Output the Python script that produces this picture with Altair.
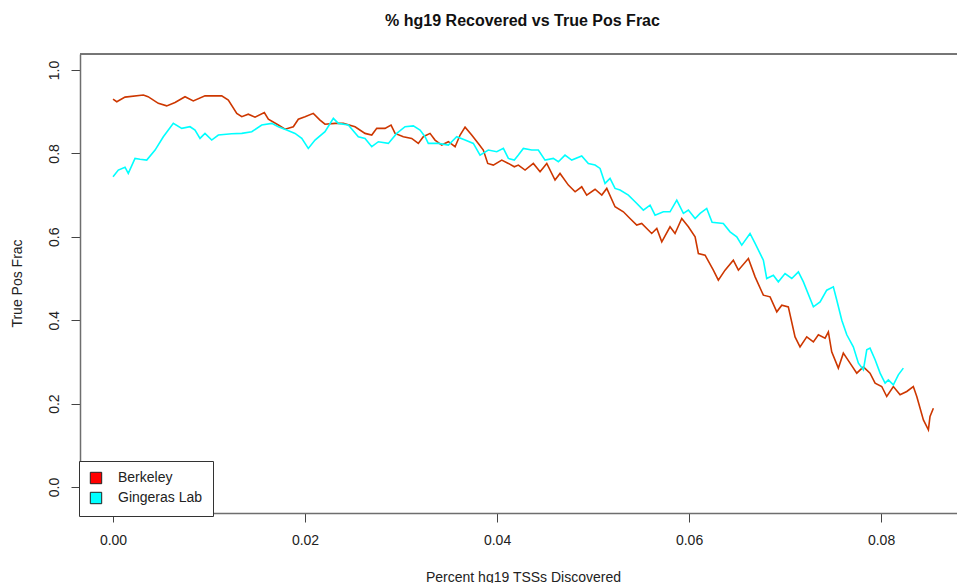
import altair as alt
import pandas as pd

series_names = ["Berkeley", "Gingeras Lab"]
line_colors = ["#CD3700", "#00FFFF"]
legend_colors = ["#FF0000", "#00FFFF"]

berkeley_x = [0.0, 0.00039, 0.00125, 0.00316, 0.00365, 0.00472, 0.00559, 0.00646, 0.0075, 0.00836,
              0.00958, 0.01132, 0.01201, 0.01289, 0.01341, 0.01409, 0.01479, 0.01576, 0.01618, 0.01722,
              0.01792, 0.01878, 0.0193, 0.02, 0.02086, 0.02156, 0.02208, 0.02313, 0.02399, 0.02521,
              0.02625, 0.02695, 0.02747, 0.02833, 0.02896, 0.02938, 0.03024, 0.03111, 0.0318, 0.03232,
              0.03302, 0.03354, 0.03424, 0.03493, 0.03563, 0.03615, 0.03667, 0.03736, 0.03805, 0.03857,
              0.03903, 0.03961, 0.04049, 0.04118, 0.0418, 0.04222, 0.04292, 0.04378, 0.04448, 0.04518,
              0.04604, 0.04656, 0.04743, 0.04813, 0.04882, 0.04934, 0.05021, 0.05091, 0.05143, 0.05229,
              0.05316, 0.05385, 0.05455, 0.05507, 0.05611, 0.05664, 0.05716, 0.05802, 0.05854, 0.05924,
              0.05993, 0.06063, 0.06097, 0.06167, 0.06253, 0.06305, 0.06375, 0.06461, 0.06514, 0.06618,
              0.06688, 0.06774, 0.06844, 0.06914, 0.06966, 0.07034, 0.07104, 0.07156, 0.07226, 0.07295,
              0.07347, 0.07417, 0.07451, 0.07486, 0.07555, 0.07607, 0.07677, 0.07747, 0.07816, 0.07885,
              0.07938, 0.08007, 0.08059, 0.08128, 0.08198, 0.08268, 0.08336, 0.08372, 0.08441, 0.08493,
              0.0851, 0.08545]
berkeley_y = [0.930, 0.924, 0.935, 0.940, 0.936, 0.920, 0.914, 0.922, 0.936, 0.926,
              0.938, 0.938, 0.928, 0.896, 0.888, 0.894, 0.887, 0.898, 0.882, 0.868,
              0.858, 0.864, 0.882, 0.888, 0.896, 0.880, 0.870, 0.872, 0.872, 0.864,
              0.848, 0.844, 0.860, 0.860, 0.868, 0.848, 0.840, 0.836, 0.824, 0.840,
              0.848, 0.832, 0.820, 0.828, 0.816, 0.844, 0.863, 0.844, 0.824, 0.808,
              0.776, 0.772, 0.784, 0.776, 0.768, 0.772, 0.760, 0.776, 0.756, 0.776,
              0.736, 0.752, 0.724, 0.708, 0.720, 0.700, 0.714, 0.700, 0.716, 0.672,
              0.660, 0.644, 0.628, 0.632, 0.608, 0.620, 0.588, 0.624, 0.608, 0.644,
              0.624, 0.600, 0.560, 0.556, 0.520, 0.496, 0.520, 0.544, 0.520, 0.548,
              0.504, 0.460, 0.456, 0.420, 0.436, 0.432, 0.360, 0.336, 0.360, 0.348,
              0.365, 0.357, 0.372, 0.324, 0.285, 0.321, 0.297, 0.273, 0.288, 0.273,
              0.249, 0.241, 0.217, 0.241, 0.221, 0.229, 0.241, 0.217, 0.161, 0.137,
              0.169, 0.189]

gingeras_x = [0.0, 0.00055, 0.00125, 0.00159, 0.00229, 0.00281, 0.00351, 0.00438, 0.00524, 0.00628,
              0.00716, 0.00802, 0.00854, 0.00906, 0.00958, 0.01028, 0.01097, 0.01236, 0.01341, 0.01445,
              0.01549, 0.01653, 0.01722, 0.01809, 0.01896, 0.01966, 0.02034, 0.02104, 0.02208, 0.02295,
              0.02347, 0.02451, 0.02555, 0.02625, 0.02695, 0.02764, 0.02868, 0.02955, 0.03042, 0.03128,
              0.03198, 0.0325, 0.03284, 0.03389, 0.03493, 0.0358, 0.03667, 0.03753, 0.03823, 0.03909,
              0.03997, 0.04066, 0.04118, 0.0418, 0.04222, 0.04274, 0.04361, 0.0443, 0.045, 0.04586,
              0.04639, 0.04708, 0.04778, 0.04882, 0.04951, 0.05021, 0.05073, 0.05125, 0.05177, 0.05229,
              0.05281, 0.05368, 0.05438, 0.05524, 0.05594, 0.05646, 0.05732, 0.05802, 0.05872, 0.05941,
              0.05993, 0.06063, 0.06115, 0.06184, 0.0624, 0.06357, 0.06427, 0.06497, 0.06549, 0.06635,
              0.06688, 0.06774, 0.06809, 0.06878, 0.0693, 0.07, 0.0707, 0.07139, 0.07191, 0.07295,
              0.07365, 0.07434, 0.07503, 0.07539, 0.07591, 0.07643, 0.07711, 0.07764, 0.07816, 0.07851,
              0.07885, 0.07938, 0.0799, 0.08042, 0.08076, 0.08128, 0.0818, 0.08232]
gingeras_y = [0.744, 0.760, 0.767, 0.752, 0.788, 0.786, 0.784, 0.808, 0.840, 0.872,
              0.860, 0.864, 0.856, 0.836, 0.848, 0.832, 0.844, 0.847, 0.848, 0.852,
              0.868, 0.872, 0.864, 0.856, 0.848, 0.836, 0.812, 0.832, 0.852, 0.884,
              0.872, 0.868, 0.840, 0.836, 0.816, 0.828, 0.824, 0.848, 0.864, 0.866,
              0.856, 0.840, 0.824, 0.824, 0.820, 0.840, 0.832, 0.824, 0.796, 0.808,
              0.804, 0.812, 0.788, 0.784, 0.796, 0.812, 0.808, 0.808, 0.784, 0.788,
              0.780, 0.796, 0.784, 0.794, 0.776, 0.772, 0.764, 0.728, 0.740, 0.716,
              0.712, 0.700, 0.684, 0.664, 0.676, 0.652, 0.660, 0.660, 0.688, 0.656,
              0.664, 0.644, 0.656, 0.668, 0.635, 0.632, 0.612, 0.600, 0.580, 0.608,
              0.584, 0.544, 0.500, 0.508, 0.492, 0.512, 0.500, 0.516, 0.492, 0.432,
              0.444, 0.472, 0.480, 0.448, 0.400, 0.365, 0.336, 0.297, 0.281, 0.329,
              0.333, 0.305, 0.273, 0.249, 0.257, 0.245, 0.269, 0.285]

x_ticks = [0.00, 0.02, 0.04, 0.06, 0.08]
y_ticks = [0.0, 0.2, 0.4, 0.6, 0.8, 1.0]
x_domain = [-0.00344, 0.08791]
y_domain = [-0.0624, 1.0384]

df = pd.concat([
    pd.DataFrame({"x": berkeley_x, "y": berkeley_y, "series": series_names[0], "i": range(len(berkeley_x))}),
    pd.DataFrame({"x": gingeras_x, "y": gingeras_y, "series": series_names[1], "i": range(len(gingeras_x))}),
])

FONT = "Liberation Sans"
W, H = 877, 459
frame_color = "#6e6e6e"

xscale = alt.Scale(domain=x_domain, nice=False, zero=False)
yscale = alt.Scale(domain=y_domain, nice=False, zero=False)

xaxis = alt.Axis(values=x_ticks, format=".2f", title="Percent hg19 TSSs Discovered",
                 grid=False, domainColor=frame_color, domainWidth=1.5,
                 tickColor="#444", tickSize=9, tickWidth=1,
                 labelFont=FONT, labelFontSize=14, labelColor="#222", labelPadding=11,
                 titleFont=FONT, titleFontSize=14, titleFontWeight="normal", titleColor="#222",
                 titleX=443, titleY=68, titleBaseline="alphabetic", titleAnchor="start", titleAlign="center")
yaxis = alt.Axis(values=y_ticks, format=".1f", title="True Pos Frac",
                 grid=False, domainColor=frame_color, domainWidth=1.5,
                 tickColor="#444", tickSize=9, tickWidth=1,
                 labelFont=FONT, labelFontSize=14, labelColor="#222", labelPadding=10,
                 labelAngle=270, labelAlign="center", labelBaseline="bottom",
                 titleFont=FONT, titleFontSize=14, titleFontWeight="normal", titleColor="#222",
                 titleX=-63, titleY=229, titleAngle=270, titleAlign="center", titleBaseline="middle")

lines = alt.Chart(df).mark_line(strokeWidth=1.6, interpolate="linear").encode(
    x=alt.X("x:Q", scale=xscale, axis=xaxis),
    y=alt.Y("y:Q", scale=yscale, axis=yaxis),
    color=alt.Color("series:N", scale=alt.Scale(domain=series_names, range=line_colors), legend=None),
    order="i:Q",
    detail="series:N",
)

legend_df = pd.DataFrame({"series": series_names, "x": [x_ticks[0], x_ticks[0]], "y": [y_ticks[-1], y_ticks[-1]]})

legend_layer = alt.Chart(legend_df).mark_square(size=0, filled=True).encode(
    x=alt.X("x:Q", scale=xscale),
    y=alt.Y("y:Q", scale=yscale),
    fill=alt.Fill("series:N", scale=alt.Scale(domain=series_names, range=legend_colors),
                  legend=alt.Legend(title=None, orient="none", legendX=-1, legendY=407,
                                    symbolType="square", symbolSize=130, symbolOpacity=1,
                                    symbolStrokeColor="#222", symbolStrokeWidth=1,
                                    labelFont=FONT, labelFontSize=14, labelColor="#222",
                                    labelOffset=15, rowPadding=4, padding=10,
                                    strokeColor="#333", fillColor="white")),
)

top_rule = alt.Chart(legend_df).mark_rule(color=frame_color, strokeWidth=1.5).encode(
    x=alt.value(0), x2=alt.value(W), y=alt.value(0)
)

chart = alt.layer(lines, legend_layer, top_rule).resolve_scale(
    color="independent", fill="independent"
).properties(
    width=W, height=H,
    autosize="none",
    padding={"left": 80, "top": 54, "right": 0, "bottom": 70},
    title=alt.TitleParams("% hg19 Recovered vs True Pos Frac", font=FONT, fontSize=16,
                          fontWeight="bold", color="#111", anchor="middle", dx=4, offset=24),
).configure_view(stroke=None).configure(background="white")

chart.save("out.html", embed_options={"renderer": "svg", "actions": False})
